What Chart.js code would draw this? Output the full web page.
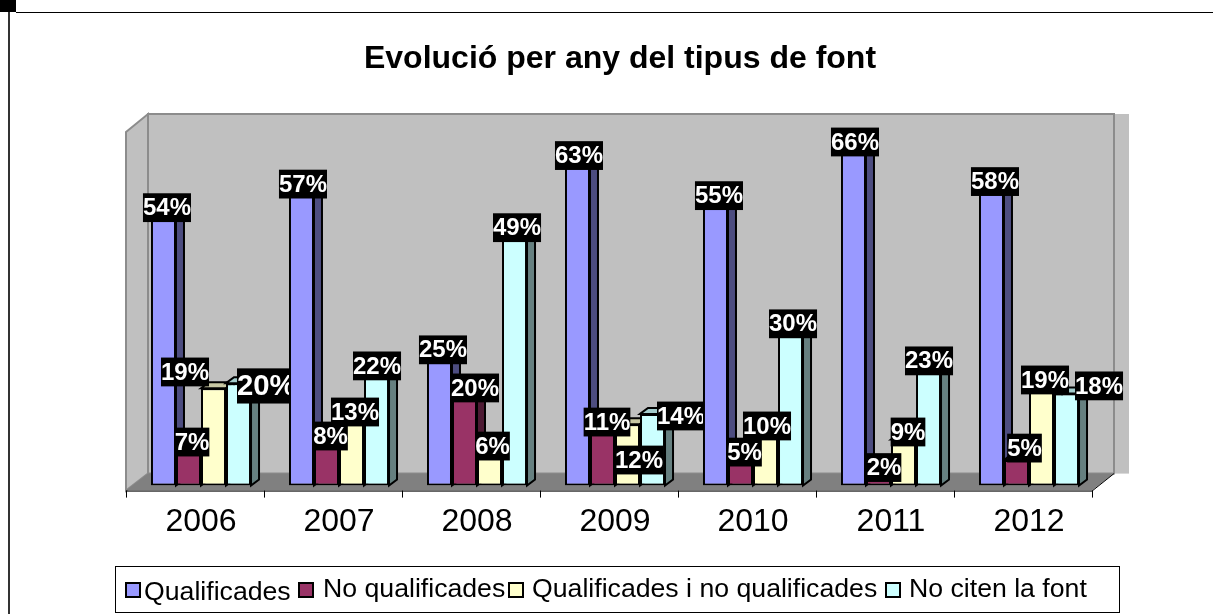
<!DOCTYPE html>
<html lang="ca">
<head>
<meta charset="utf-8">
<title>Evolució per any del tipus de font</title>
<style>
    html, body { margin: 0; padding: 0; background: #ffffff; }
    canvas { display: block; }
</style>
<script src="https://cdn.jsdelivr.net/npm/chart.js"></script>
</head>
<body>
<canvas id="myChart" width="1213" height="614"></canvas>
<script>
const chartTitle = "Evolució per any del tipus de font";
const years = ["2006", "2007", "2008", "2009", "2010", "2011", "2012"];
const seriesNames = ["Qualificades", "No qualificades", "Qualificades i no qualificades", "No citen la font"];

const qualificades = [54, 57, 25, 63, 55, 66, 58];
const noQualificades = [7, 8, 20, 11, 5, 2, 5];
const qualificadesINo = [19, 13, 6, 12, 10, 9, 19];
const noCiten = [20, 22, 49, 14, 30, 23, 18];

const frontColors = ["#9999ff", "#993366", "#ffffcc", "#ccffff"];
const sideColors = ["#4d4d80", "#4d1a33", "#808066", "#668080"];
const topColors = ["#7a7acc", "#7a2952", "#c8c8a3", "#a3cccc"];

// where each label box sits relative to the top centre of its bar
const labelDx = [
    [3.5, 1.5, 3.5, 1.5, 3.5, 1.5, 3.5],
    [3.5, 4, 10.5, 4.5, 4, 5.5, 8],
    [-28.5, 3.5, 3, 11.5, 1.5, 4.5, 3.5],
    [27.8, 0.5, 2.5, 28.5, 2.5, 0.5, 32.5],
];
const labelDy = [
    [-1.3, -9.5, -7.7, -7.3, -8.2, -5.5, -6.9],
    [-7.7, -8.6, 4.8, -7.2, -7.9, -7.8, -11.9],
    [-16.3, -7, -8.8, 35.9, -8.4, -7.5, -8.3],
    [2.8, -7, -6.9, 2.1, -8.1, -6.9, -7.5],
];

// legend layout
const legendSwatchX = [125, 298, 508, 885];
const legendTextX = [144, 323, 532, 909];
const legendBaseline = [600, 597, 597, 597];

const fontName = '"Liberation Sans", Arial, sans-serif';
const barDepthX = 8;
const barDepthY = 6;
const wallDepthX = 22;
const wallDepthY = 17;

const polygon = (ctx, points, fill, stroke, lineWidth) => {
    ctx.beginPath();
    points.forEach(([x, y], i) => (i === 0 ? ctx.moveTo(x, y) : ctx.lineTo(x, y)));
    ctx.closePath();
    if (fill) {
        ctx.fillStyle = fill;
        ctx.fill();
    }
    if (stroke) {
        ctx.strokeStyle = stroke;
        ctx.lineWidth = lineWidth;
        ctx.stroke();
    }
};

// page edges, walls and floor of the 3D box
const backdropPlugin = {
    id: "backdrop",
    beforeDatasetsDraw(chart) {
        const { ctx, chartArea, scales } = chart;
        const left = chartArea.left - 6;
        const right = chartArea.right - 6;
        const top = chartArea.top + 5;
        const bottom = chartArea.bottom + 5;
        const backLeft = left + wallDepthX;
        const backRight = right + wallDepthX;
        const backTop = top - wallDepthY - 1;
        const backBottom = bottom - wallDepthY;

        ctx.save();
        ctx.fillStyle = "#000000";
        ctx.fillRect(0, 0, 16, 12);
        ctx.fillRect(16, 12, 1197, 1);
        ctx.fillStyle = "#333333";
        ctx.fillRect(8, 12, 2, 602);

        ctx.fillStyle = "#c0c0c0";
        ctx.fillRect(backRight, backTop, 15, backBottom - backTop);
        polygon(ctx, [[backLeft, backTop], [backRight, backTop], [backRight, backBottom], [backLeft, backBottom]], "#c0c0c0", "#8c8c8c", 2);
        polygon(ctx, [[left, top], [backLeft, backTop], [backLeft, backBottom], [left, bottom]], "#c0c0c0", "#8c8c8c", 2);
        polygon(ctx, [[left, bottom], [backLeft, backBottom], [backRight, backBottom], [right, bottom]], "#808080");

        ctx.strokeStyle = "#000000";
        ctx.lineWidth = 1;
        ctx.beginPath();
        ctx.moveTo(left, bottom + 0.5);
        ctx.lineTo(right, bottom + 0.5);
        ctx.moveTo(right, bottom + 0.5);
        ctx.lineTo(backRight, backBottom);
        const step = scales.x.getPixelForValue(1) - scales.x.getPixelForValue(0);
        for (let i = 0; i <= years.length; i++) {
            const x = Math.round(scales.x.getPixelForValue(i) - step / 2 - 6) + 0.5;
            ctx.moveTo(x, bottom);
            ctx.lineTo(x, bottom + 7);
        }
        ctx.stroke();

        // side and top faces, left to right so nearer bars cover the ones before
        ctx.lineJoin = "miter";
        years.forEach((year, index) => {
            chart.data.datasets.forEach((dataset, s) => {
                const bar = chart.getDatasetMeta(s).data[index];
                const x1 = bar.x - bar.width / 2;
                const x2 = bar.x + bar.width / 2;
                polygon(ctx, [[x1, bar.y], [x1 + barDepthX, bar.y - barDepthY], [x2 + barDepthX, bar.y - barDepthY], [x2, bar.y]], topColors[s], "#000000", 2);
                polygon(ctx, [[x2, bar.y], [x2 + barDepthX, bar.y - barDepthY], [x2 + barDepthX, bar.base - barDepthY], [x2, bar.base]], sideColors[s], "#000000", 2);
            });
        });
        ctx.restore();
    },
};

// black percentage boxes, cut off where the next year's first bar starts
const valueLabelsPlugin = {
    id: "valueLabels",
    afterDatasetsDraw(chart) {
        const { ctx } = chart;
        chart.data.datasets.forEach((dataset, s) => {
            dataset.data.forEach((value, i) => {
                const bar = chart.getDatasetMeta(s).data[i];
                const nextBar = chart.getDatasetMeta(0).data[i + 1];
                const size = s === 3 && i === 0 ? 29.3 : 24;
                const text = value + "%";
                ctx.save();
                if (nextBar) {
                    ctx.beginPath();
                    ctx.rect(0, 0, nextBar.x - nextBar.width / 2, chart.height);
                    ctx.clip();
                }
                ctx.font = `bold ${size}px ${fontName}`;
                const boxWidth = ctx.measureText(text).width;
                const boxHeight = size * 1.2;
                const cx = bar.x + labelDx[s][i];
                const cy = bar.y + labelDy[s][i];
                ctx.fillStyle = "#000000";
                ctx.fillRect(cx - boxWidth / 2, cy - boxHeight / 2, boxWidth, boxHeight);
                ctx.fillStyle = "#ffffff";
                ctx.textAlign = "center";
                ctx.textBaseline = "middle";
                ctx.fillText(text, cx, cy + 1);
                ctx.restore();
            });
        });
    },
};

// title and boxed legend, the built-in ones can't be placed this tightly
const titleLegendPlugin = {
    id: "titleLegend",
    afterDraw(chart) {
        const { ctx } = chart;
        ctx.save();
        ctx.fillStyle = "#000000";
        ctx.textBaseline = "alphabetic";
        ctx.textAlign = "center";
        ctx.font = `bold 32px ${fontName}`;
        ctx.fillText(chartTitle, 620, 68);

        ctx.strokeStyle = "#000000";
        ctx.lineWidth = 1;
        ctx.strokeRect(115.5, 566.5, 1004, 46);
        ctx.textAlign = "left";
        ctx.font = `26.67px ${fontName}`;
        chart.data.datasets.forEach((dataset, s) => {
            ctx.fillStyle = dataset.backgroundColor;
            ctx.fillRect(legendSwatchX[s], 582, 15, 15);
            ctx.lineWidth = 2;
            ctx.strokeRect(legendSwatchX[s] + 1, 583, 14, 14);
            ctx.fillStyle = "#000000";
            ctx.fillText(dataset.label, legendTextX[s], legendBaseline[s]);
        });
        ctx.restore();
    },
};

const seriesValues = [qualificades, noQualificades, qualificadesINo, noCiten];

const config = {
    type: "bar",
    data: {
        labels: years,
        datasets: seriesNames.map((name, s) => ({
            label: name,
            data: seriesValues[s],
            backgroundColor: frontColors[s],
            borderColor: "#000000",
            borderWidth: 2,
            borderSkipped: false,
            categoryPercentage: 0.725,
            barPercentage: 1,
        })),
    },
    options: {
        responsive: false,
        animation: false,
        layout: { padding: { left: 132, right: 115, top: 127, bottom: 56 } },
        plugins: {
            legend: { display: false },
            title: { display: false },
            tooltip: { enabled: false },
        },
        scales: {
            x: {
                border: { display: false },
                grid: { display: false, drawTicks: false },
                ticks: {
                    color: "#000000",
                    padding: 17,
                    maxRotation: 0,
                    font: { family: fontName, size: 32 },
                },
            },
            y: { display: false, min: 0, max: 70 },
        },
    },
    plugins: [backdropPlugin, valueLabelsPlugin, titleLegendPlugin],
};

const myChart = new Chart(document.getElementById("myChart"), config);
</script>
</body>
</html>
